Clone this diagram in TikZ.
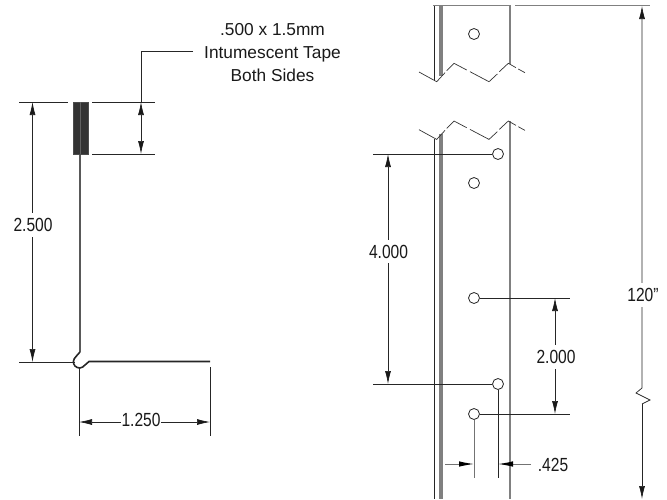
\documentclass[tikz,border=0pt]{standalone}
\usepackage{fontspec}
\setmainfont[FakeStretch=0.82]{Liberation Sans}
\newfontfamily\notefont{Liberation Sans}
\usetikzlibrary{arrows.meta}
\tikzset{
  tipa/.tip={Latex[length=13pt,width=6pt,color=black!90]},
  tipb/.tip={Latex[length=15pt,width=5.5pt,color=black]},
  dim/.style={line width=0.7pt,draw=black!85},
  dimg/.style={line width=1pt,draw=black!55},
  arr/.style={tipa-tipa,line width=0.7pt,draw=black!85},
  arrend/.style={-tipa,line width=0.7pt,draw=black!85},
  lab/.style={font=\fontsize{19}{21}\selectfont,inner xsep=1pt,inner ysep=5pt,fill=white,text=black!90},
  edge/.style={line width=1.2pt,draw=black!50},
  edged/.style={line width=1pt,draw=black!85},
  thick gray/.style={line width=4pt,draw=black!50},
  hole/.style={circle,draw=black!85,line width=0.8pt,minimum size=11pt,inner sep=0pt,fill=white},
  brk/.style={line width=0.7pt,draw=black!80}
}
\newcommand{\zigzag}{%
\draw[brk] (419,72) -- (436.7,81.7) -- (445,72.7);
\draw[brk] (446.7,70.7) -- (454,63.3) -- (466.7,70);
\draw[brk] (470,71.7) -- (489,81.7) -- (497.3,74);
\draw[brk] (499.3,71.7) -- (508.3,63.3) -- (516,67.7);
\draw[brk] (518.3,69) -- (525,72.7);}
\begin{document}
\begin{tikzpicture}[x=1pt,y=-1pt]
\useasboundingbox (0,0) rectangle (667,499);
% --- left profile ---
\coordinate (wt) at (80,154);
\coordinate (wb) at (80,352);
\coordinate (fe) at (210,361.5);
\draw[line width=2pt,draw=black!65] (wt) -- (wb);
\draw[line width=1.6pt,draw=black!85] (wb) -- (76,356.5) .. controls (73,359.5) and (72.5,363) .. (75,366) .. controls (78,369) and (82,368.5) .. (85,365) -- (89,361.5) -- (fe);
\node[draw=black!70,fill=black!80,minimum width=15pt,minimum height=52pt,inner sep=0pt,line width=0.4pt] (tape) at (80.5,128) {};
\draw[line width=1pt,draw=black!62] (80,102) -- (80,154);
% extension lines
\coordinate (a1) at (19,102); \coordinate (a2) at (68,102);
\coordinate (a3) at (19,362); \coordinate (a4) at (75,362);
\coordinate (b1) at (92,102); \coordinate (b2) at (155,102);
\coordinate (b3) at (92,154); \coordinate (b4) at (155,154);
\draw[dim] (a1) -- (a2); \draw[dim] (a3) -- (a4);
\draw[dim] (b1) -- (b2); \draw[dim] (b3) -- (b4);
\draw[arr] (32.5,102) -- (32.5,362);
\node[lab] (t2500) at (33,225) {2.500};
\coordinate (ld) at (193,51.5);
\coordinate (lc) at (141,51.5);
\draw[dim] (ld) -- (lc) -- (141,102);
\draw[arr] (141,102) -- (141,154);
\node[align=center,font=\notefont\fontsize{17.3}{23.3}\selectfont,text=black!90,inner sep=0pt] (tnote) at (272.5,52.5) {.500 x 1.5mm\\Intumescent Tape\\Both Sides};
\coordinate (c1) at (79,368); \coordinate (c2) at (79,436);
\coordinate (c3) at (210,367); \coordinate (c4) at (210,436);
\draw[dim] (c1) -- (c2); \draw[dim] (c3) -- (c4);
\draw[arr] (79,422) -- (210,422);
\node[lab,inner ysep=1pt] (t1250) at (141,420) {1.250};
% --- right: upper piece ---
\draw[edged] (434,6) -- (434,81);
\draw[thick gray] (441.3,6) -- (441.3,76);
\draw[edge] (433,5.5) -- (510,5.5) -- (510,64);
\zigzag
\node[hole] (h0) at (474,34) {};
% --- right: lower piece ---
\draw[edged] (434,139) -- (434,499);
\draw[thick gray] (441.3,134) -- (441.3,499);
\draw[edge] (510,121) -- (510,499);
\begin{scope}[yshift=-57.7pt]\zigzag\end{scope}
\node[hole] (h1) at (498,154) {};
\node[hole] (h2) at (474,183) {};
\node[hole] (h3) at (474,298) {};
\node[hole] (h4) at (498,384) {};
\node[hole] (h5) at (474,414) {};
% dimension 4.000
\coordinate (d1) at (373,154); \coordinate (d2) at (373,384);
\draw[dim] (d1) -- (h1.west); \draw[dim] (d2) -- (h4.west);
\draw[arr] (388,154) -- (388,384);
\node[lab] (t4000) at (388.5,251.5) {4.000};
% dimension 2.000
\coordinate (e1) at (570,298); \coordinate (e2) at (570,414);
\draw[dim] (h3.east) -- (e1); \draw[dim] (h5.east) -- (e2);
\draw[arr] (555,298) -- (555,414);
\node[lab] (t2000) at (556,357) {2.000};
% dimension .425
\coordinate (f1) at (474,478); \coordinate (f2) at (498,478);
\draw[dimg] (h5.south) -- (f1);
\draw[dim] (h4.south) -- (f2);
\coordinate (g1) at (445,464); \coordinate (g2) at (531,464);
\draw[-tipb,dimg] (g1) -- (474,464);
\draw[-tipb,dimg] (g2) -- (498,464);
\node[font=\fontsize{19}{21}\selectfont,text=black!90,inner sep=0pt] (t425) at (553,465) {.425};
% dimension 120"
\coordinate (t1) at (515,5.5); \coordinate (t2) at (650,5.5);
\draw[edge] (t1) -- (t2);
\coordinate (v1) at (642,6); \coordinate (v2) at (642,499);
\draw[tipa-,dim] (v1) -- (642,388) -- (636,393) -- (650,400) -- (642,404);
\draw[arrend] (642,404) -- (v2);
\node[lab] (t120) at (643,295) {120"};
\end{tikzpicture}
\end{document}
